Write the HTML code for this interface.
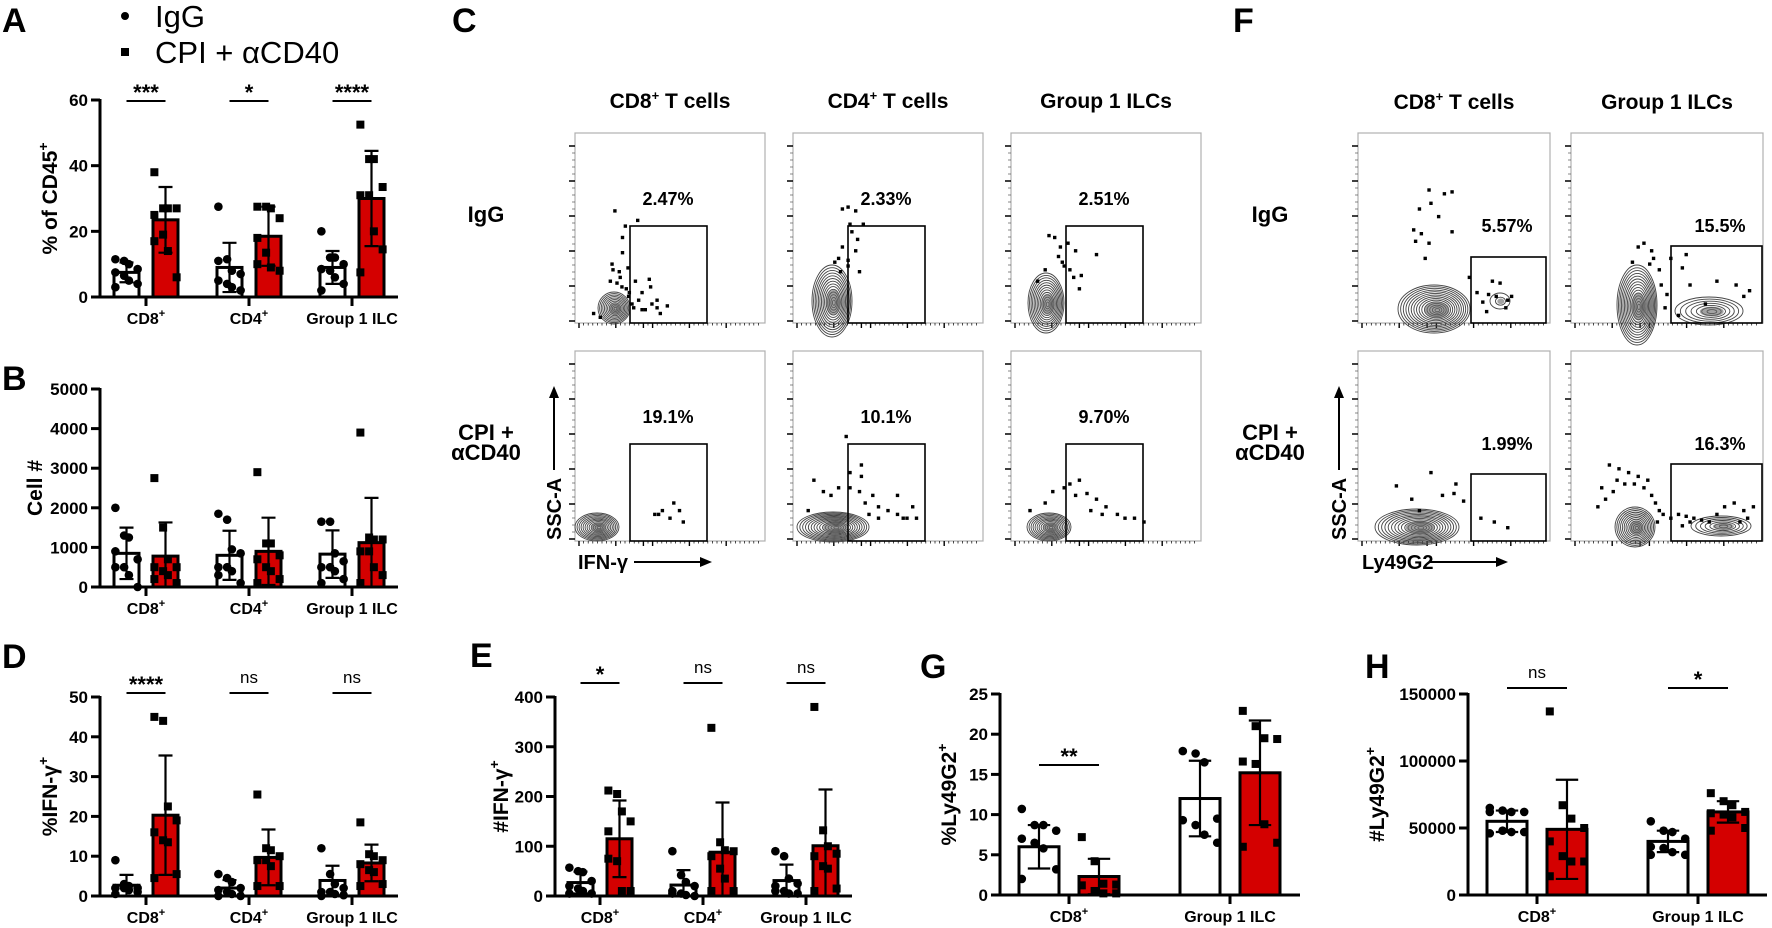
<!DOCTYPE html>
<html><head><meta charset="utf-8"><style>
html,body{margin:0;padding:0;background:#fff;}
svg{display:block;font-family:"Liberation Sans",Arial,sans-serif;}
.b{font-weight:bold;}
</style></head><body>
<svg id="fig" width="1772" height="928" viewBox="0 0 1772 928" xmlns="http://www.w3.org/2000/svg">
<g id="static">
<text x="2" y="32" font-size="34" class="b">A</text>
<text x="2" y="390" font-size="34" class="b">B</text>
<text x="452" y="32" font-size="34" class="b">C</text>
<text x="2" y="668" font-size="34" class="b">D</text>
<text x="470" y="667" font-size="34" class="b">E</text>
<text x="1233" y="32" font-size="34" class="b">F</text>
<text x="920" y="678" font-size="34" class="b">G</text>
<text x="1365" y="678" font-size="34" class="b">H</text>
<g>
<circle cx="125" cy="16" r="4" fill="#000"/>
<text x="155" y="27" font-size="31">IgG</text>
<rect x="121" y="48" width="8" height="8" fill="#000"/>
<text x="155" y="63" font-size="31">CPI + αCD40</text>
</g>
</g>
</svg>
<script>
// ---------- bar chart data ----------
const catsABDE = ["CD8", "CD4", "Group 1 ILC"];
const catsGH = ["CD8", "Group 1 ILC"];
const aIggMean = [7.5, 9, 9], aIggSd = [3, 7.5, 5];
const aCpiMean = [23.5, 18.5, 30], aCpiSd = [10, 9, 14.5];
const aIggPts = [[11.5,11,10,8.5,7.5,6.5,5,4,3],[27.5,11.5,8,7,5,4,3,2,11],[20,12,12,10,8.5,8,6,4,2]];
const aCpiPts = [[38,27,27,27,25,19,14,6,17],[27.5,27.5,27,24,18,13.5,9,8,10],[52.5,42,42,33.5,31,31,20,14.5,7.5]];
const aTicks = [0,20,40,60];
const aSig = ["***","*","****"];

const bIggMean = [850, 800, 830], bIggSd = [650, 620, 600];
const bCpiMean = [780, 900, 1120], bCpiSd = [850, 850, 1130];
const bIggPts = [[2000,1300,1250,700,500,500,300,0,900],[1850,1700,950,850,500,500,400,100,300],[1650,1650,850,650,500,500,400,200,100]];
const bCpiPts = [[2750,1500,700,500,500,400,300,100,200],[2900,1100,1100,800,700,500,400,200,100],[3900,1250,1200,1200,900,900,500,300,100]];
const bTicks = [0,1000,2000,3000,4000,5000];

const dIggMean = [2.7, 2, 3.9], dIggSd = [2.6, 2, 3.7];
const dCpiMean = [20.3, 9.7, 8.3], dCpiSd = [15, 7, 4.6];
const dIggPts = [[9,3,2.5,2,2,2,1.5,1,0.5],[5.5,4.5,3.5,2,1.5,1,0.5,0,0],[12,5.5,3,2,1,1,0.5,0.2,0]];
const dCpiPts = [[45,44,22.5,19,16,14,13.5,5.5,4.5],[25.5,12,11.5,10,9,9,7.5,2.5,2.5],[18.5,10.5,10,9,8,6.5,6,3,2.5]];
const dTicks = [0,10,20,30,40,50];
const dSig = ["****","ns","ns"];

const eIggMean = [27, 22, 31], eIggSd = [22, 30, 32];
const eCpiMean = [115, 88, 101], eCpiSd = [77, 100, 113];
const eIggPts = [[57,50,48,30,20,15,10,5,5],[90,42,28,20,10,5,2,0,5],[90,80,35,25,10,10,5,5,20]];
const eCpiPts = [[212,205,170,150,75,70,10,10,130],[338,108,92,90,80,55,35,10,10],[380,132,100,85,80,60,55,15,10]];
const eTicks = [0,100,200,300,400];
const eSig = ["*","ns","ns"];

const gIggMean = [6, 12], gIggSd = [2.7, 4.7];
const gCpiMean = [2.3, 15.2], gCpiSd = [2.2, 6.5];
const gIggPts = [[10.7,8.7,8.7,8,7,6.5,5.8,3.2,2],[17.9,17.6,16.5,9.5,9.3,8.7,7.5,6.5]];
const gCpiPts = [[7.2,4.2,1.4,1.3,1.2,0.5,0.2,0.2],[22.9,21,19.5,19.4,16.6,16.3,8.8,6.5,6]];
const gTicks = [0,5,10,15,20,25];
const gSig = ["**",""];

const hIggMean = [55000, 40000], hIggSd = [8000, 8000];
const hCpiMean = [49000, 62000], hCpiSd = [37000, 8000];
const hIggPts = [[65000,63000,62000,62000,62000,48000,47000,47000,46000],[55000,48000,47000,42000,36000,35000,32000,30000,30000]];
const hCpiPts = [[137000,67000,57000,50000,40000,29000,25000,25000,14000],[76000,70000,67000,62000,61000,60000,58000,50000,48000]];
const hTicks = [0,50000,100000,150000];
const hSig = ["ns","*"];

// ---------- flow cytometry data ----------
const cHeaders = ["CD8⁺ T cells","CD4⁺ T cells","Group 1 ILCs"];
const cPercents = [["2.47%","2.33%","2.51%"],["19.1%","10.1%","9.70%"]];
const fHeaders = ["CD8⁺ T cells","Group 1 ILCs"];
const fPercents = [["5.57%","15.5%"],["1.99%","16.3%"]];
const cDots = [
 [[[.21,.41],[.33,.46],[.265,.49],[.25,.55],[.25,.63],[.195,.69],[.233,.73],[.279,.71],[.186,.78],[.221,.79],[.247,.81],[.286,.84],[.318,.78],[.353,.84],[.391,.77],[.398,.81],[.335,.88],[.37,.93],[.405,.9],[.432,.88],[.449,.95],[.486,.91],[.353,.93],[.309,.92],[.098,.95],[.133,.97],[.282,.86],[.432,.92],[.238,.76],[.3,.9],[.27,.82],[.2,.72]],
  [[.52,.8],[.46,.84],[.44,.86],[.42,.86],[.5,.88],[.55,.84],[.57,.9]]],
 [[[.26,.4],[.29,.39],[.33,.41],[.3,.48],[.37,.48],[.26,.6],[.24,.66],[.22,.68],[.29,.67],[.35,.73],[.33,.62],[.31,.52],[.34,.56],[.29,.7],[.25,.73]],
  [[.08,.84],[.11,.68],[.16,.74],[.2,.76],[.24,.72],[.3,.72],[.35,.74],[.38,.8],[.42,.76],[.45,.82],[.5,.84],[.55,.86],[.6,.88],[.63,.82],[.58,.88],[.65,.88],[.55,.76],[.3,.64],[.45,.88],[.36,.6],[.28,.45],[.36,.66],[.4,.86]]],
 [[[.2,.54],[.23,.55],[.26,.6],[.25,.65],[.28,.7],[.31,.72],[.3,.58],[.34,.62],[.37,.75],[.36,.82],[.33,.76],[.14,.78],[.18,.72],[.45,.64],[.27,.68]],
  [[.18,.8],[.22,.74],[.28,.72],[.31,.7],[.36,.68],[.4,.75],[.45,.78],[.5,.82],[.56,.86],[.6,.88],[.65,.88],[.48,.86],[.42,.84],[.34,.76],[.7,.9],[.1,.84]]]
];
const fDots = [
 [[[.37,.3],[.45,.32],[.49,.31],[.32,.4],[.38,.37],[.42,.44],[.29,.51],[.33,.53],[.3,.57],[.37,.58],[.49,.52],[.35,.66],[.68,.85],[.72,.86],[.62,.84],[.78,.88],[.8,.86],[.65,.89],[.7,.78],[.74,.79],[.58,.76],[.77,.92],[.67,.94]],
  [[.2,.71],[.38,.64],[.5,.75],[.55,.79],[.44,.76],[.28,.78],[.32,.84],[.51,.7],[.64,.88],[.71,.9],[.78,.93]]],
 [[[.35,.6],[.38,.58],[.42,.62],[.43,.66],[.41,.69],[.32,.68],[.46,.72],[.47,.8],[.58,.71],[.62,.8],[.7,.9],[.5,.85],[.76,.78],[.86,.8],[.9,.86],[.93,.83],[.52,.66],[.6,.64],[.56,.96],[.49,.92]],
  [[.2,.6],[.25,.62],[.3,.64],[.35,.66],[.28,.7],[.22,.74],[.18,.78],[.14,.82],[.38,.72],[.42,.76],[.44,.8],[.46,.84],[.48,.86],[.45,.9],[.52,.88],[.56,.86],[.6,.87],[.64,.88],[.68,.89],[.72,.9],[.8,.82],[.85,.8],[.9,.84],[.88,.9],[.92,.88],[.76,.86],[.58,.92],[.62,.9],[.24,.68],[.33,.7],[.4,.68],[.16,.72],[.95,.82]]]
];

const NS = "http://www.w3.org/2000/svg";
const svg = document.getElementById("fig");
function mk(tag, attrs, parent) {
  const e = document.createElementNS(NS, tag);
  for (const k in attrs) e.setAttribute(k, attrs[k]);
  (parent || svg).appendChild(e);
  return e;
}
function txt(s, attrs, parent) { const t = mk("text", attrs, parent); t.textContent = s; return t; }

function catLabel(g, cat, x, y) {
  const t = mk("text", {x: x, y: y, "font-size": 16, "font-weight": "bold", "text-anchor": "middle"}, g);
  
  
  if (cat === "Group 1 ILC") { t.textContent = cat; }
  else { t.textContent = cat; const s = mk("tspan", {"font-size": 11, dy: -7}, t); s.textContent = "+"; }
}

function barChart(cfg) {
  const g = mk("g", {});
  
  
  const max = cfg.ticks[cfg.ticks.length - 1];
  const yS = v => cfg.y0 - (v / max) * (cfg.y0 - cfg.yTop);
  const xS = i => cfg.first + i * cfg.step;
  const ya = mk("line", {x1: cfg.ax, x2: cfg.ax, y1: cfg.yTop - 1, y2: cfg.y0 + 1.5, stroke: "#000", "stroke-width": 3}, g);
  
  
  const xa = mk("line", {x1: cfg.ax - 1.5, x2: cfg.axEnd, y1: cfg.y0, y2: cfg.y0, stroke: "#000", "stroke-width": 3}, g);
  
  
  cfg.ticks.forEach(t => {
    const y = yS(t);
    mk("line", {x1: cfg.ax - 9, x2: cfg.ax, y1: y, y2: y, stroke: "#000", "stroke-width": 3}, g);
    const tl = txt(String(t), {x: cfg.ax - 12, y: y + 6, "font-size": 17, "font-weight": "bold", "text-anchor": "end"}, g);
    
    
  });
  const yt = mk("text", {x: 0, y: 0, "font-size": 21, "font-weight": "bold", "text-anchor": "middle",
    transform: `translate(${cfg.titleX},${(cfg.yTop + cfg.y0) / 2}) rotate(-90)`}, g);
  
  
  yt.textContent = cfg.title;
  if (cfg.sup) { const s = mk("tspan", {"font-size": 14, dy: -9}, yt); s.textContent = "+"; }
  cfg.cats.forEach((cat, i) => {
    const c = xS(i);
    mk("line", {x1: c, x2: c, y1: cfg.y0, y2: cfg.y0 + 9, stroke: "#000", "stroke-width": 3}, g);
    catLabel(g, cat, c, cfg.y0 + 27);
    const series = [
      {mean: cfg.iggMean[i], sd: cfg.iggSd[i], pts: cfg.iggPts[i], l: c - cfg.outer, r: c - cfg.inner, fill: "#fff", sq: false, nm: "bar-igg"},
      {mean: cfg.cpiMean[i], sd: cfg.cpiSd[i], pts: cfg.cpiPts[i], l: c + cfg.inner, r: c + cfg.outer, fill: "#d40000", sq: true, nm: "bar-cpi"}
    ];
    series.forEach(s => {
      const bw = s.r - s.l, mid = (s.l + s.r) / 2;
      const top = yS(s.mean);
      const rect = mk("rect", {x: s.l, y: top, width: bw, height: cfg.y0 - top, fill: s.fill, stroke: "#000", "stroke-width": 3}, g);
      
      
      s.pts.forEach((v, k) => {
        const dx = ((k % 4) - 1.5) * bw * 0.27 + ((k % 2) ? 1 : -1);
        const py = yS(v);
        let m;
        if (s.sq) m = mk("rect", {x: mid + dx - 4, y: py - 4, width: 8, height: 8, fill: "#000"}, g);
        else m = mk("circle", {cx: mid + dx, cy: py, r: 4.3, fill: "#000"}, g);
        
        
      });
      const yh = yS(s.mean + s.sd), yl = yS(Math.max(0, s.mean - s.sd));
      const eb = mk("path", {d: `M${mid},${yh}V${yl}M${mid - bw * 0.28},${yh}H${mid + bw * 0.28}M${mid - bw * 0.28},${yl}H${mid + bw * 0.28}`, stroke: "#000", "stroke-width": 2.2, fill: "none"}, g);
      
      
    });
    if (cfg.sig && cfg.sig[i]) {
      const l1 = c - (cfg.outer + cfg.inner) / 2, l2 = c + (cfg.outer + cfg.inner) / 2;
      const sl = mk("line", {x1: l1, x2: l2, y1: cfg.sigY, y2: cfg.sigY, stroke: "#000", "stroke-width": 2}, g);
      
      
      const isNs = cfg.sig[i] === "ns";
      const st = txt(cfg.sig[i], {x: c, y: cfg.sigY - (isNs ? 10 : 1), "font-size": isNs ? 17 : 22, "font-weight": isNs ? "normal" : "bold", "text-anchor": "middle"}, g);
      
      
    }
  });
}

barChart({name: "chart-a", cats: catsABDE, ticks: aTicks, iggMean: aIggMean, iggSd: aIggSd, cpiMean: aCpiMean, cpiSd: aCpiSd, iggPts: aIggPts, cpiPts: aCpiPts, sig: aSig,
  ax: 100, axEnd: 398, yTop: 100, y0: 297, first: 146, step: 103, inner: 7, outer: 32, sigY: 101, title: "% of CD45", sup: true, titleX: 57});
barChart({name: "chart-b", cats: catsABDE, ticks: bTicks, iggMean: bIggMean, iggSd: bIggSd, cpiMean: bCpiMean, cpiSd: bCpiSd, iggPts: bIggPts, cpiPts: bCpiPts, sig: null,
  ax: 100, axEnd: 398, yTop: 389, y0: 587, first: 146, step: 103, inner: 7, outer: 32, sigY: 0, title: "Cell #", sup: false, titleX: 42});
barChart({name: "chart-d", cats: catsABDE, ticks: dTicks, iggMean: dIggMean, iggSd: dIggSd, cpiMean: dCpiMean, cpiSd: dCpiSd, iggPts: dIggPts, cpiPts: dCpiPts, sig: dSig,
  ax: 100, axEnd: 398, yTop: 697, y0: 896, first: 146, step: 103, inner: 7, outer: 32, sigY: 693, title: "%IFN-γ", sup: true, titleX: 57});
barChart({name: "chart-e", cats: catsABDE, ticks: eTicks, iggMean: eIggMean, iggSd: eIggSd, cpiMean: eCpiMean, cpiSd: eCpiSd, iggPts: eIggPts, cpiPts: eCpiPts, sig: eSig,
  ax: 555, axEnd: 852, yTop: 697, y0: 896, first: 600, step: 103, inner: 7, outer: 32, sigY: 683, title: "#IFN-γ", sup: true, titleX: 508});
barChart({name: "chart-g", cats: catsGH, ticks: gTicks, iggMean: gIggMean, iggSd: gIggSd, cpiMean: gCpiMean, cpiSd: gCpiSd, iggPts: gIggPts, cpiPts: gCpiPts, sig: gSig,
  ax: 1000, axEnd: 1300, yTop: 694, y0: 895, first: 1069, step: 161, inner: 10, outer: 50, sigY: 765, title: "%Ly49G2", sup: true, titleX: 956});
barChart({name: "chart-h", cats: catsGH, ticks: hTicks, iggMean: hIggMean, iggSd: hIggSd, cpiMean: hCpiMean, cpiSd: hCpiSd, iggPts: hIggPts, cpiPts: hCpiPts, sig: hSig,
  ax: 1468, axEnd: 1767, yTop: 694, y0: 895, first: 1537, step: 161, inner: 10, outer: 50, sigY: 688, title: "#Ly49G2", sup: true, titleX: 1384});

// ---------- flow plots ----------
function contour(g, cx, cy, rx, ry, n) {
  for (let k = 0; k < n; k++) {
    const f = 1 - k / n;
    const e = mk("ellipse", {cx: cx + (1 - f) * rx * 0.1, cy: cy + (1 - f) * ry * 0.05, rx: rx * f, ry: ry * f, fill: "none", stroke: "#444", "stroke-width": 0.9}, g);
    
    
  }
  mk("ellipse", {cx: cx + rx * 0.08, cy: cy + ry * 0.04, rx: rx * 0.35, ry: ry * 0.35, fill: "#666", opacity: 0.6}, g);
}
function flowPlot(x, y, w, h, gate, pct, pctX, pctY, conts, dots, name) {
  const g = mk("g", {});
  
  
  const fr = mk("rect", {x: x, y: y, width: w, height: h, fill: "#fff", stroke: "#b0b0b0", "stroke-width": 1.2}, g);
  
  
  for (let k = 0; k <= 5; k++) {
    const ty = y + h - 2 - k * (h - 8) / 5.2;
    mk("line", {x1: x - 6, x2: x, y1: ty, y2: ty, stroke: "#000", "stroke-width": 1.5}, g);
    if (k < 5) for (let m = 1; m < 5; m++) mk("line", {x1: x - 3, x2: x, y1: ty - m * (h - 8) / 26, y2: ty - m * (h - 8) / 26, stroke: "#555", "stroke-width": 0.7}, g);
  }
  for (let k = 0; k < 40; k++) {
    const tx = x + 4 + k * (w - 6) / 40;
    const big = k % 8 === 0 || k === 14 || k === 16;
    mk("line", {x1: tx, x2: tx, y1: y + h, y2: y + h + (big ? 5 : 2.5), stroke: "#000", "stroke-width": big ? 1.4 : 0.7}, g);
  }
  conts.forEach(c => contour(g, x + c[0], y + c[1], c[2], c[3], c[4]));
  dots.forEach(d => {
    const r = mk("rect", {x: x + d[0] * w - 1.7, y: y + d[1] * h - 1.7, width: 3.4, height: 3.4, fill: "#000"}, g);
    
    
  });
  const gt = mk("rect", {x: x + gate[0], y: y + gate[2], width: gate[1] - gate[0], height: h - gate[2], fill: "none", stroke: "#000", "stroke-width": 1.6}, g);
  
  
  const pt = txt(pct, {x: x + pctX, y: y + pctY, "font-size": 18, "font-weight": "bold", "text-anchor": "middle"}, g);
  
  
}
const cX = [575, 793, 1011], rowY = [133, 351], pw = 190, ph = 190;
const cConts = [
  [[[39,175,16,16,11]], [[22,176,22,14,12]]],
  [[[39,168,20,36,14]], [[40,176,36,15,14]]],
  [[[35,170,18,30,13]], [[38,176,22,14,12]]]
];
cX.forEach((x, i) => {
  const hd = txt("", {x: x + 95, y: 108, "font-size": 21, "font-weight": "bold", "text-anchor": "middle"});
  
  
  if (i < 2) { const a = mk("tspan", {}, hd); a.textContent = i === 0 ? "CD8" : "CD4"; const s = mk("tspan", {"font-size": 13, dy: -8}, hd); s.textContent = "+"; const b = mk("tspan", {dy: 8}, hd); b.textContent = " T cells"; }
  else hd.textContent = cHeaders[2];
  rowY.forEach((y, r) => {
    flowPlot(x, y, pw, ph, [55, 132, 93], cPercents[r][i], 93, 72, cConts[i][r], cDots[i][r], 'flow-c-' + i + '-' + r);
  });
});
const fX = [1358, 1571];
const fGates = [[113, 188, 124], [100, 191, 113]];
const fConts = [
  [[[76,176,36,24,15],[142,168,10,8,2]], [[59,176,42,18,14]]],
  [[[66,172,20,40,15],[138,178,34,14,7]], [[64,176,20,20,12],[150,175,30,10,7]]]
];
fX.forEach((x, i) => {
  const hd = txt("", {x: x + 96, y: 109, "font-size": 21, "font-weight": "bold", "text-anchor": "middle"});
  
  
  if (i === 0) { const a = mk("tspan", {}, hd); a.textContent = "CD8"; const s = mk("tspan", {"font-size": 13, dy: -8}, hd); s.textContent = "+"; const b = mk("tspan", {dy: 8}, hd); b.textContent = " T cells"; }
  else hd.textContent = fHeaders[1];
  rowY.forEach((y, r) => {
    const gg = fGates[i].slice(); if (r === 1) gg[2] = i === 0 ? 123 : 113;
    flowPlot(x, y, 192, ph, gg, fPercents[r][i], 149, 99, fConts[i][r], fDots[i][r], 'flow-f-' + i + '-' + r);
  });
});
function rowLabels(cx) {
  [["IgG", 222], ["CPI +", 440], ["αCD40", 460]].forEach(l => {
    const t = txt(l[0], {x: cx, y: l[1], "font-size": 22, "font-weight": "bold", "text-anchor": "middle"});
    
    
  });
}
rowLabels(486); rowLabels(1270);
function axisArrows(sx, xl, xlabel, xEnd) {
  const s = txt("SSC-A", {x: 0, y: 0, "font-size": 20, "font-weight": "bold", "text-anchor": "start", transform: `translate(${sx},540) rotate(-90)`});
  
  
  mk("path", {d: `M${sx - 7},470V395`, stroke: "#000", "stroke-width": 2});
  mk("path", {d: `M${sx - 7},386l-5,12h10z`, fill: "#000"});
  const x = txt(xlabel, {x: xl, y: 569, "font-size": 20, "font-weight": "bold"});
  
  
  mk("path", {d: `M${xEnd - 78},562H${xEnd - 8}`, stroke: "#000", "stroke-width": 2});
  mk("path", {d: `M${xEnd},562l-12,-5v10z`, fill: "#000"});
}
axisArrows(561, 578, "IFN-γ", 712);
axisArrows(1346, 1362, "Ly49G2", 1508);
</script>
</body></html>
